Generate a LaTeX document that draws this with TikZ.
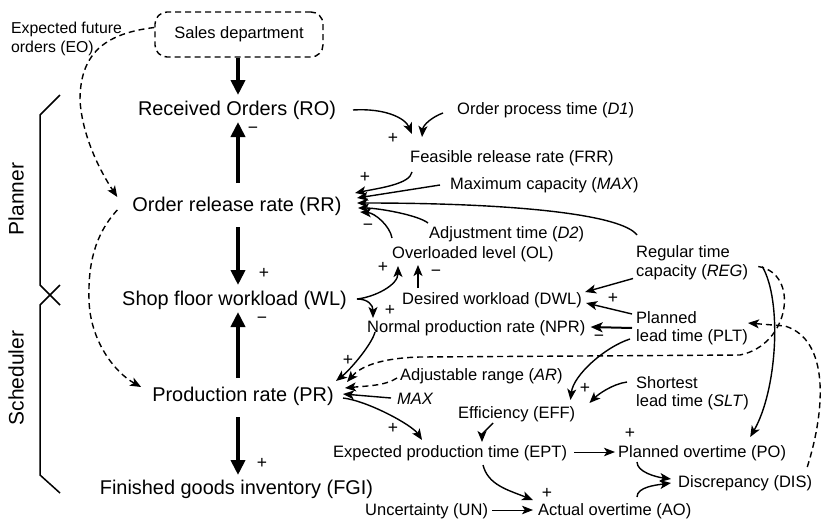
\documentclass[tikz,border=0pt]{standalone}
\usepackage{fontspec}
\setmainfont{Liberation Sans}
\usetikzlibrary{arrows.meta,calc}
\begin{document}
\begin{tikzpicture}[x=1pt,y=-1pt,
  big/.style={font=\fontsize{19.9}{24}\selectfont, inner sep=0pt, text height=14.3pt, text depth=0pt},
  sm/.style={font=\fontsize{16.5}{18.5}\selectfont, inner sep=0pt, anchor=west},
  sm1/.style={sm, text height=11.8pt, text depth=0pt},
  sm2/.style={sm, align=left},
  sgn/.style={font=\fontsize{17.5}{18}\selectfont, inner sep=0pt, text height=10pt, text depth=0pt},
  con/.style={line width=1.4pt, -{Stealth[length=11pt,width=9pt,inset=2.8pt]}},
  dsh/.style={con, dash pattern=on 6pt off 4pt},
  thk/.style={line width=4.6pt, -{Triangle[length=15pt,width=14pt]}},
  thn/.style={line width=0.9pt, -{Stealth[length=11pt,width=8.5pt,inset=2.8pt]}},
  brk/.style={line width=1.5pt},
  side/.style={font=\fontsize{21}{24}\selectfont, inner sep=0pt, rotate=90},
]
\useasboundingbox (0,0) rectangle (821,522);

% ---------- main column ----------
\node[draw, rounded corners=12pt, dash pattern=on 6pt off 4pt, line width=1.4pt,
      minimum width=168pt, minimum height=45pt, inner sep=0pt,
      font=\fontsize{16.5}{18.5}\selectfont] (sales) at (239,34.5) {Sales department};
\node[sm2, font=\fontsize{15.8}{19}\selectfont] (eo) at (11,38.5) {Expected future\\orders (EO)};

\node[big] (ro)  at (237,108)   {Received Orders (RO)};
\node[big] (rr)  at (237,204)   {Order release rate (RR)};
\node[big] (wl)  at (234.5,298) {Shop floor workload (WL)};
\node[big] (pr)  at (243,394)   {Production rate (PR)};
\node[big] (fgi) at (236.5,487) {Finished goods inventory (FGI)};

\node[side] (planner)   at (16,199) {Planner};
\node[side] (scheduler) at (16,378) {Scheduler};

% ---------- right side ----------
\node[sm1] (d1)   at (457,109) {Order process time (\textit{D1})};
\node[sm1] (frr)  at (410,157) {Feasible release rate (FRR)};
\node[sm1] (max)  at (450,184) {Maximum capacity (\textit{MAX})};
\node[sm1] (d2)   at (429,233) {Adjustment time (\textit{D2})};
\node[sm1] (ol)   at (392,253) {Overloaded level (OL)};
\node[sm1] (dwl)  at (402,299) {Desired workload (DWL)};
\node[sm1] (npr)  at (367,327) {Normal production rate (NPR)};
\node[sm2] (reg)  at (636,262.5) {Regular time\\capacity (\textit{REG})};
\node[sm2] (plt)  at (636,328) {Planned\\lead time (PLT)};
\node[sm2] (slt)  at (636,393) {Shortest\\lead time (\textit{SLT})};
\node[sm1] (ar)   at (400,375) {Adjustable range (\textit{AR})};
\node[sm1] (max2) at (397,399) {\textit{MAX}};
\node[sm1] (eff)  at (458,413) {Efficiency (EFF)};
\node[sm1] (ept)  at (333,452) {Expected production time (EPT)};
\node[sm1] (po)   at (618,452) {Planned overtime (PO)};
\node[sm1] (dis)  at (678,482) {Discrepancy (DIS)};
\node[sm1] (un)   at (365,510) {Uncertainty (UN)};
\node[sm1] (ao)   at (538,510) {Actual overtime (AO)};

% ---------- brackets ----------
\draw[brk] (60,95) -- (40,115) -- (40,285) -- (60,305);
\draw[brk] (60,285) -- (40,305) -- (40,475) -- (60,493);

% ---------- thick arrows ----------
\draw[thk] ($(sales.south)+(-1,0)$) -- ($(ro.center)+(1,-13)$);
\draw[thk] ($(rr.center)+(1,-21)$) -- ($(ro.center)+(1,14)$);
\draw[thk] ($(rr.center)+(1,23)$) -- ($(wl.center)+(3.5,-13)$);
\draw[thk] ($(pr.center)+(-5,-16)$) -- ($(wl.center)+(3.5,14)$);
\draw[thk] ($(pr.center)+(-5,23)$) -- ($(fgi.center)+(1.5,-12)$);

% ---------- dashed left loops ----------
\coordinate (w1) at (80,100);
\coordinate (w2) at (89,300);
\draw[dsh] ($(sales.west)+(0,-7)$) .. controls +(-45,5.5) and +(0,-50) .. (w1)
  .. controls +(2,35) and +(-18,-27) .. ($(rr.west)+(-15,-7)$);
\draw[dsh] ($(rr.west)+(-15,6)$) .. controls +(-23,25) and +(-1,-35) .. (w2)
  .. controls +(1,40) and +(-27,-15) .. ($(pr.west)+(-11,-7)$);

% ---------- into FRR and RR ----------
\draw[con] ($(ro.center)+(116,2)$) .. controls +(32,-2) and +(-7,-16) .. ($(frr.west)+(2,-23)$);
\draw[con] ($(d1.west)+(-14,4)$) .. controls +(-11,4) and +(1,-12) .. ($(frr.west)+(12,-20)$);
\draw[con] ($(frr.west)+(2,15)$) .. controls +(-2,12) and +(25,-5) .. ($(rr.center)+(118,-11)$);
\draw[con] ($(max.west)+(-10,1)$) -- ($(rr.center)+(120,-6)$);
\draw[con] ($(reg.west)+(1,-27.5)$) .. controls +(-15,-20) and +(163,0) .. ($(rr.center)+(120,-1)$);
\draw[con] ($(d2.west)+(-1,-10)$) .. controls +(-10,-8) and +(20,0) .. ($(rr.center)+(121,4)$);
\draw[con] ($(ol.west)+(0,-15)$) .. controls +(-2,-12) and +(15,1) .. ($(rr.center)+(123,8)$);

% ---------- WL, OL, DWL, NPR ----------
\draw[con] ($(wl.center)+(122.5,1)$) .. controls +(18,-2) and +(0,19) .. ($(ol.west)+(6,13)$);
\draw[con] ($(wl.center)+(122.5,1)$) .. controls +(11,0) and +(0,-13) .. ($(npr.west)+(6,-9)$);
\draw[con] ($(dwl.west)+(16,-11)$) -- ($(ol.west)+(26,12)$);
\draw[con] ($(reg.west)+(-3,16)$) -- ($(dwl.east)+(3,-7)$);
\draw[con] ($(plt.west)+(-4,-14)$) -- ($(dwl.east)+(4,4)$);
\draw[line width=2pt, -{Stealth[length=12pt,width=10pt,inset=3pt]}] ($(plt.west)+(-4,0)$) -- ($(npr.east)+(5,0)$);

% ---------- EFF ----------
\draw[con] ($(plt.west)+(-6,11)$) .. controls +(-25,8) and +(3,-25) .. ($(eff.east)+(-5,-13)$);
\draw[con] ($(slt.west)+(-9,-11)$) .. controls +(-15,2) and +(8,-8) .. ($(eff.east)+(14,-10)$);
\draw[con] ($(eff.west)+(35,10)$) .. controls +(-5,5) and +(0,-8) .. ($(ept.west)+(149,-10)$);

% ---------- into PR ----------
\coordinate (w3) at (740,355);
\coordinate (w4) at (420,357);
\draw[dsh] ($(reg.east)+(10,4)$) .. controls +(42,7) and +(50,-10) .. (w3) -- (w4)
  .. controls +(-40,1) and +(13,-15) .. ($(pr.center)+(104,-12)$);
\draw[con] ($(npr.west)+(8,5)$) .. controls +(-3,12) and +(15,-12) .. ($(pr.center)+(93,-13)$);
\draw[dsh] ($(ar.west)+(-3,3)$) .. controls +(-12,8) and +(20,-2) .. ($(pr.center)+(102,-6)$);
\draw[con] ($(max2.west)+(-6,-1)$) -- ($(pr.center)+(100,0)$);
\draw[con] ($(pr.center)+(100,4)$) .. controls +(25,3) and +(-10,-15) .. ($(ept.west)+(89,-12)$);

% ---------- overtime ----------
\draw[thn] ($(ept.east)+(7,0)$) -- ($(po.west)+(-3,0)$);
\draw[con] ($(reg.east)+(14,4)$) .. controls +(20,34) and +(27,-47) .. ($(po.east)+(-36,-15)$);
\draw[con] ($(po.west)+(19,10)$) .. controls +(0,10) and +(-15,-2) .. ($(dis.west)+(-7,-3)$);
\draw[con] ($(ao.west)+(99,-13)$) .. controls +(0,-10) and +(-15,2) .. ($(dis.west)+(-7,1)$);
\coordinate (w5) at (785,326);
\draw[dsh] ($(dis.east)+(-5,-15)$) .. controls +(18,-57) and +(45,14) .. (w5) -- ($(plt.west)+(112,-5)$);
\draw[con] ($(ept.west)+(150,13)$) .. controls +(5,20) and +(-25,-10) .. ($(ao.west)+(-5,-10)$);
\draw[thn] ($(un.east)+(4,0)$) -- ($(ao.west)+(-5,0)$);

% ---------- signs ----------
\node[sgn] (s1)  at (253,128) {−};
\node[sgn] (s2)  at (264,273) {+};
\node[sgn] (s3)  at (262,318) {−};
\node[sgn] (s4)  at (262,463) {+};
\node[sgn] (s5)  at (393,138) {+};
\node[sgn] (s6)  at (365,177) {+};
\node[sgn] (s7)  at (368,225) {−};
\node[sgn] (s8)  at (383,267) {+};
\node[sgn] (s9)  at (436,271) {−};
\node[sgn] (s10) at (390,310) {+};
\node[sgn] (s11) at (613,298) {+};
\node[sgn] (s12) at (599,336) {−};
\node[sgn] (s13) at (348,360) {+};
\node[sgn] (s14) at (585,388) {+};
\node[sgn] (s15) at (393,428) {+};
\node[sgn] (s16) at (630,433) {+};
\node[sgn] (s17) at (547,493) {+};
\end{tikzpicture}
\end{document}
